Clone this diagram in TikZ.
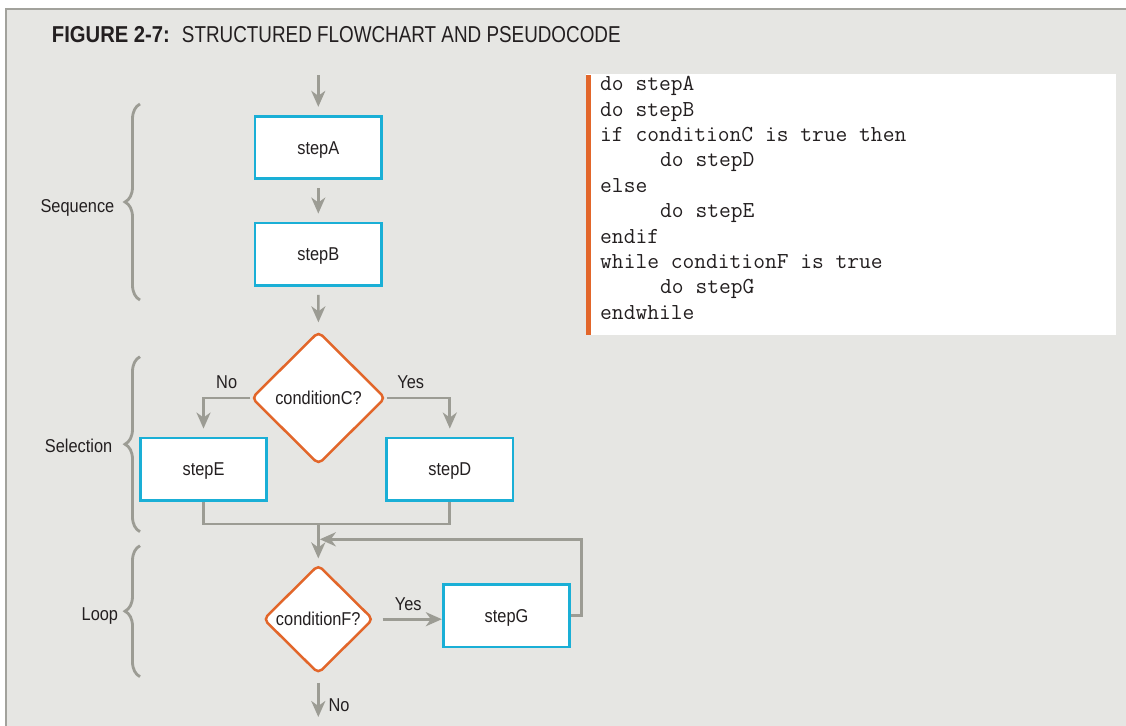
\documentclass[tikz,border=0pt]{standalone}
\usepackage{fontspec}
\usepackage{xcolor}
\usepackage{tikz}
\usetikzlibrary{positioning,arrows.meta,shapes.geometric,
                decorations.pathreplacing}
\newfontfamily\labelfont[FakeStretch=0.88]{Liberation Sans}
\newfontfamily\titlefont[FakeStretch=0.82]{Liberation Sans}
\newfontfamily\titleboldfont[FakeStretch=0.88]{Liberation Sans}
\definecolor{panel1}{HTML}{E6E6E3}
\definecolor{frame1}{HTML}{A2A29C}
\definecolor{line1}{HTML}{9C9C94}
\definecolor{cyan1}{HTML}{1AAFD6}
\definecolor{orange1}{HTML}{E2662A}
\definecolor{ink1}{HTML}{231F20}

\begin{document}
\begin{tikzpicture}[
    x=1pt, y=-1pt,
    stepbox/.style={draw=cyan1, fill=white, line width=2.8pt,
                    minimum width=126.5pt, minimum height=62.5pt,
                    text height=13pt, text depth=0pt, text=ink1,
                    font=\labelfont\fontsize{18.6}{20}\selectfont},
    decision/.style={diamond, draw=orange1, fill=white, line width=2.5pt,
                     rounded corners=5pt, inner sep=0pt,
                     text height=13pt, text depth=0pt, text=ink1,
                     font=\labelfont\fontsize{18.6}{20}\selectfont},
    flow/.style={draw=line1, line width=2.7pt,
                 -{Stealth[length=16pt, width=14pt, inset=5pt]}},
    link/.style={draw=line1, line width=2.7pt},
    lbl/.style={inner sep=0pt, text=ink1,
                font=\labelfont\fontsize{18.6}{20}\selectfont},
    grp/.style={draw=line1, line width=2.8pt, decorate,
                decoration={brace, amplitude=15pt}},
    code/.style={inner sep=0pt, align=left, text=ink1,
                 font=\ttfamily\fontsize{22.86}{25.4}\selectfont},
]
\useasboundingbox (0,0) rectangle (1126,725);
\clip (0,0) rectangle (1126,725);
\fill[white] (0,0) rectangle (1126,725);
\draw[frame1, line width=2pt, fill=panel1] (6,9) rectangle (1200,800);

% title
\node[anchor=base west, inner sep=0pt, text=ink1] (title) at (51.7,42.3)
    {{\titleboldfont\fontsize{23}{25}\selectfont\bfseries FIGURE 2-7:}%
     \hspace*{12pt}{\titlefont\fontsize{23}{25}\selectfont
     STRUCTURED FLOWCHART AND PSEUDOCODE}};

% pseudocode panel (base anchor sits on the last line)
\fill[white] (586,74) rectangle (1116,335);
\fill[orange1] (586,75) rectangle (590.5,335);
\node[code, anchor=base west] (pseudo) at (600,319.3)
    {do stepA\\
     do stepB\\
     if conditionC is true then\\
     \hspace*{60pt}do stepD\\
     else\\
     \hspace*{60pt}do stepE\\
     endif\\
     while conditionF is true\\
     \hspace*{60pt}do stepG\\
     endwhile};

% flowchart
\node[stepbox] (stepA) at (318.3,147.5) {stepA};
\node[stepbox] (stepB) at (318.3,254.2) {stepB};
\node[decision, minimum width=134pt, minimum height=133pt]
    (condC) at (318.5,398) {conditionC?};
\node[stepbox] (stepE) at (203.5,469.2) {stepE};
\node[stepbox] (stepD) at (449.8,469.2) {stepD};
\node[decision, minimum width=110pt, minimum height=109pt]
    (condF) at (318.3,619.2) {conditionF?};
\node[stepbox] (stepG) at (506.5,615.8) {stepG};

\coordinate (entry) at (318.3,75);
\coordinate (join) at (318.3,524);
\coordinate (back) at (318.3,539.3);
\coordinate (exit) at (318.3,717);

\draw[flow, shorten >=8pt] (entry) -- (stepA);
\draw[flow, shorten <=8pt, shorten >=8pt] (stepA) -- (stepB);
\draw[flow, shorten <=8pt, shorten >=8pt] (stepB) -- (condC);
\draw[flow, shorten >=8pt] (condC.west) -| (stepE);
\draw[flow, shorten >=8pt] (condC.east) -| (stepD);
\draw[link] (stepE) |- (join) -| (stepD);
\draw[flow, shorten >=5pt] (join) -- (condF);
\draw[flow, shorten <=8pt] (condF.east) -- (condF.east -| stepG.west);
\draw[flow, shorten >=1.5pt] (stepG.east) -- ++(10,0) |- (back);
\draw[flow, shorten <=8pt] (condF) -- (exit);

\node[lbl, anchor=base] (noC) at (226.7,388.3) {No};
\node[lbl, anchor=base] (yesC) at (410.7,388.6) {Yes};
\node[lbl, anchor=base] (yesF) at (408.3,610.7) {Yes};
\node[lbl, anchor=base west] (noF) at (328.3,711) {No};

% groups
\draw[grp] (140,300) -- (140,104);
\draw[grp] (140,531.7) -- (140,356.7);
\draw[grp] (140,676.7) -- (140,545.7);
\node[lbl, anchor=base east] (seq) at (114.5,212.3) {Sequence};
\node[lbl, anchor=base east] (sel) at (112.5,452) {Selection};
\node[lbl, anchor=base east] (loop) at (118.3,620) {Loop};
\end{tikzpicture}
\end{document}
